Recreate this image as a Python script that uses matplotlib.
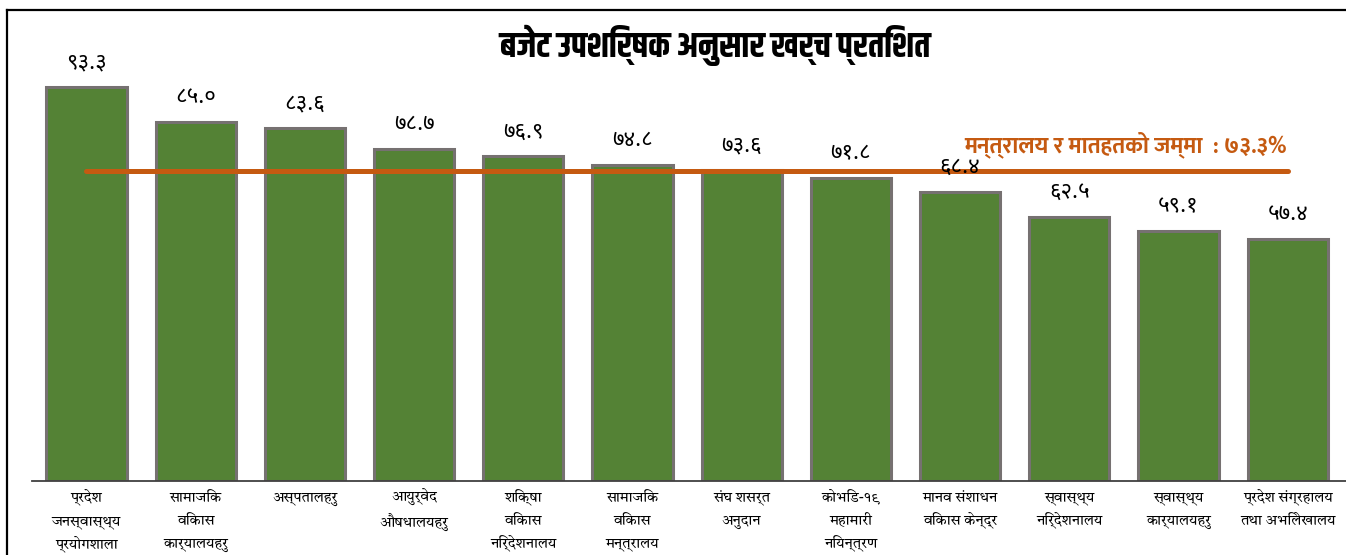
import matplotlib
matplotlib.use("Agg")
import matplotlib.pyplot as plt
from matplotlib.lines import Line2D

# ---- data ----
categories = [
    "प्रदेश\nजनस्वास्थ्य\nप्रयोगशाला",
    "सामाजिक\nविकास\nकार्यालयहरु",
    "अस्पतालहरु",
    "आयुर्वेद\nऔषधालयहरु",
    "शिक्षा\nविकास\nनिर्देशनालय",
    "सामाजिक\nविकास\nमन्त्रालय",
    "संघ शसर्त\nअनुदान",
    "कोभिड-१९\nमहामारी\nनियन्त्रण",
    "मानव संशाधन\nविकास केन्द्र",
    "स्वास्थ्य\nनिर्देशनालय",
    "स्वास्थ्य\nकार्यालयहरु",
    "प्रदेश संग्रहालय\nतथा अभिलेखालय",
]
values = [93.3, 85.0, 83.6, 78.7, 76.9, 74.8, 73.6, 71.8, 68.4, 62.5, 59.1, 57.4]
total_value = 73.3
title_text = "बजेट उपशिर्षक अनुसार खर्च प्रतिशत"
total_label = "मन्त्रालय र मातहतको जम्मा  : "

DEV = str.maketrans("0123456789", "०१२३४५६७८९")

def dev(v):
    return f"{v:.1f}".translate(DEV)

# ---- fonts ----
F_TITLE = ["Khand", "Teko", "Noto Sans Devanagari", "DejaVu Sans"]
F_SERIF = ["Tiro Devanagari Hindi", "Noto Serif Devanagari", "Martel", "Noto Sans Devanagari", "DejaVu Sans"]
F_VAL = ["Noto Sans Devanagari", "Hind", "Mukta", "DejaVu Sans"]
F_BOLD = ["Mukta", "Hind", "Noto Sans Devanagari", "DejaVu Sans"]

W, H = 1346, 555
fig = plt.figure(figsize=(W / 100, H / 100), dpi=100)

# frame lines (left and top)
fig.add_artist(Line2D([7 / W, 7 / W], [0, 1 - 10 / H], transform=fig.transFigure, color="black", lw=1.6))
fig.add_artist(Line2D([7 / W, 1], [1 - 10 / H, 1 - 10 / H], transform=fig.transFigure, color="black", lw=1.6))

ax = fig.add_axes([32 / W, 74 / H, (W - 32) / W, 471 / H])
ax.set_facecolor("none")
x = list(range(len(values)))
ax.bar(x, values, width=0.733, color="#548235", edgecolor="#767171", linewidth=2.2, zorder=2)
ax.set_xlim(-0.499, 11.534)
ax.set_ylim(0, 111.5)

for xi, v in zip(x, values):
    ax.annotate(dev(v), (xi, v), xytext=(0, 17.5), textcoords="offset points",
                ha="center", va="center", fontsize=16, family=F_VAL, color="black", zorder=4)

# total line
ax.plot([x[0], x[-1]], [total_value, total_value], color="#C55A11", lw=3.6,
        solid_capstyle="round", zorder=3)
ax.text(x[-1] - 0.01, total_value + 6.4, total_label + dev(total_value) + "%", ha="right", va="center",
        fontsize=16.5, fontweight="bold", family=F_BOLD, color="#C55A11", zorder=4)

for s in ["left", "right", "top"]:
    ax.spines[s].set_visible(False)
ax.spines["bottom"].set_color("#404040")
ax.spines["bottom"].set_linewidth(1.3)
ax.set_yticks([])
ax.set_xticks(x)
ax.set_xticklabels(categories, fontsize=10.5, family=F_SERIF, linespacing=1.55)
ax.tick_params(axis="x", length=0, pad=6)

fig.text(715 / W, 1 - 45 / H, title_text, ha="center", va="center", fontsize=25,
         fontweight="bold", family=F_TITLE, color="black")

fig.savefig("out.png", dpi=100)
